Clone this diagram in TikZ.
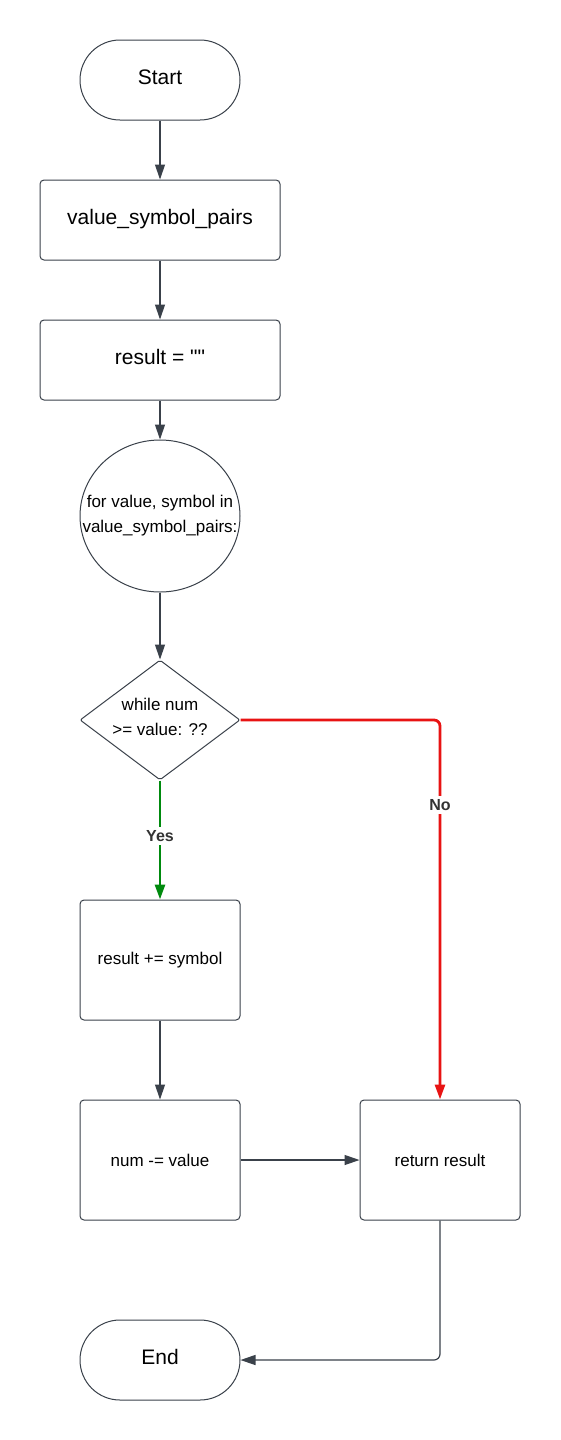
\documentclass[tikz,border=0pt]{standalone}
\usepackage{fontspec}
\setmainfont{Liberation Sans}
\newfontfamily\plainfont{Liberation Sans}[Ligatures=TeXOff]
\usetikzlibrary{shapes.misc,shapes.geometric,arrows.meta}
\definecolor{ln}{HTML}{3A414A}
\definecolor{gn}{HTML}{008A0E}
\definecolor{rd}{HTML}{E81313}
\definecolor{lbl}{HTML}{333333}
\begin{document}
\begin{tikzpicture}[x=1pt,y=-1pt,
  big/.style={font=\fontsize{21}{25}\selectfont, text height=15pt, text depth=6pt},
  small/.style={font=\fontsize{17}{25}\selectfont},
  term/.style={rounded rectangle, draw=ln, line width=1pt, minimum width=160pt, minimum height=80pt, inner sep=0pt, big},
  box/.style={rectangle, draw=ln, rounded corners=4pt, line width=1pt, inner sep=0pt},
  conn/.style={draw=ln, line width=1.2pt, -{Triangle[length=15pt,width=10pt]}},
  yconn/.style={draw=gn, line width=2.8pt, -{Triangle[length=15pt,width=10pt]}},
  nconn/.style={draw=rd, line width=2.8pt, rounded corners=6pt, -{Triangle[length=15pt,width=10pt]}},
  lab/.style={fill=white, font=\bfseries\fontsize{16}{19}\selectfont, text=lbl, inner sep=3pt}
]
\useasboundingbox (0,0) rectangle (560,1440);
\fill[white] (0,0) rectangle (560,1440);

\node[term] (start) at (160,80) {Start};
\node[box, big, minimum width=240pt, minimum height=80pt] (vsp) at (160,220) {value\_symbol\_pairs};
\node[box, big, minimum width=240pt, minimum height=80pt] (res) at (160,360) {{\plainfont result = ""}};
\node[ellipse, draw=ln, line width=1pt, minimum width=160pt, minimum height=152pt, inner sep=0pt] (loop) at (160,516) {};
\node[small, align=center] (looptxt) at (160,516) {for value, symbol in\\value\_symbol\_pairs:};
\node[diamond, draw=ln, line width=1pt, rounded corners=2pt, minimum width=160pt, minimum height=120pt, inner sep=0pt] (dec) at (160,720) {};
\node[small, align=center] (dectxt) at (160,717) {while num\\>= value: ??};
\node[box, small, minimum width=160pt, minimum height=120pt] (add) at (160,960) {result += symbol};
\node[box, small, minimum width=160pt, minimum height=120pt] (sub) at (160,1160) {num -= value};
\node[box, small, minimum width=160pt, minimum height=120pt] (ret) at (440,1160) {return result};
\node[term] (end) at (160,1360) {End};

\draw[conn] (start.south) -- (vsp.north);
\draw[conn] (vsp.south) -- (res.north);
\draw[conn] (res.south) -- (loop.north);
\draw[conn] (loop.south) -- (dec.north);
\draw[yconn] (dec.south) -- (add.north);
\node[lab] (yes) at (160,836) {Yes};
\draw[nconn] (dec.east) -| (ret.north);
\node[lab] (no) at (440,805) {No};
\draw[conn] (add.south) -- (sub.north);
\draw[conn] (sub.east) -- (ret.west);
\draw[conn, rounded corners=6pt] (ret.south) |- (end.east);
\end{tikzpicture}
\end{document}
